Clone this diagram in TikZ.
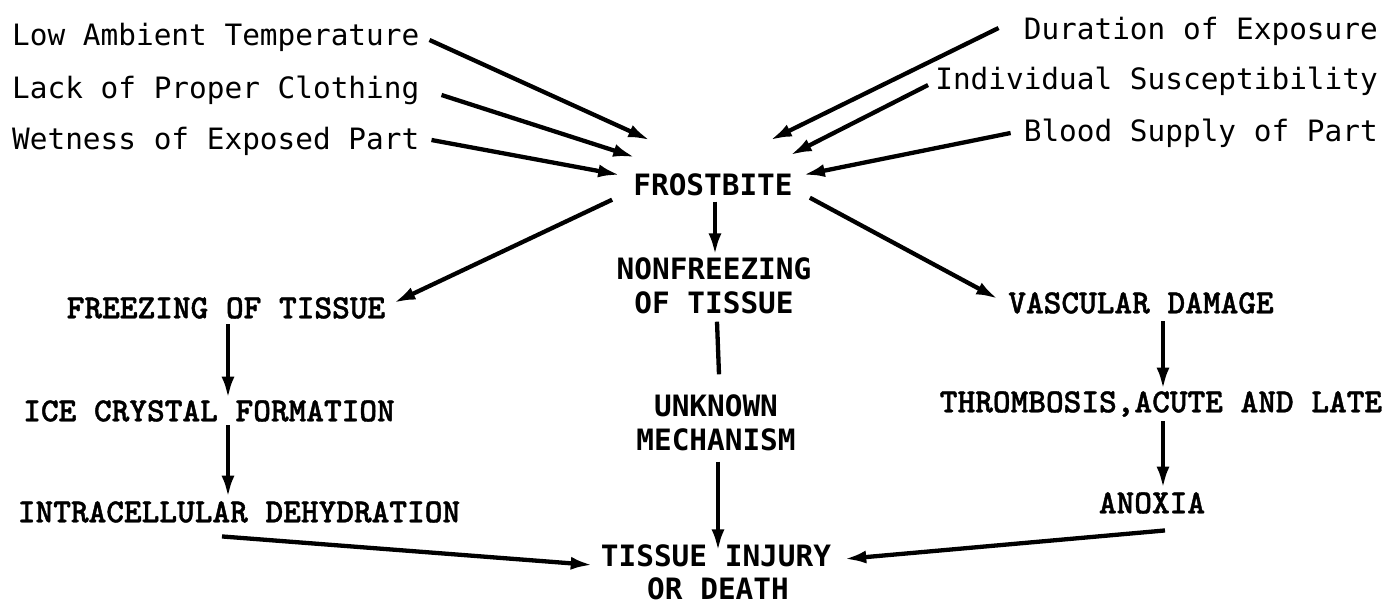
\documentclass[tikz,border=0pt]{standalone}
\usepackage{fontspec}
\newfontfamily\gothic{DejaVu Sans Mono}
\newfontfamily\typfont[FakeBold=1.2]{lmmonolt10-bold.otf}
\usetikzlibrary{arrows.meta,calc}
\tikzset{
  goth/.style={inner sep=0pt,text height=21pt,text depth=0pt,font=\gothic\fontsize{29.4}{32}\selectfont},
  gothb/.style={inner sep=0pt,text height=21pt,text depth=0pt,font=\gothic\bfseries\fontsize{29.4}{32}\selectfont},
  typw/.style={inner sep=0pt,text height=20.5pt,text depth=0pt,font=\typfont\fontsize{33.7}{36}\selectfont},
  arr/.style={line width=4.3pt,-{Latex[length=22pt,width=13pt]}},
  ln/.style={line width=4.3pt}
}
\begin{document}
\begin{tikzpicture}[x=1pt,y=-1pt]
\useasboundingbox[fill=white] (0,0) rectangle (1390,605);
% causes
\node[goth,anchor=west] (lat) at (12,35) {Low Ambient Temperature};
\node[goth,anchor=west] (lpc) at (12,88) {Lack of Proper Clothing};
\node[goth,anchor=west] (wep) at (12,139) {Wetness of Exposed Part};
\node[goth,anchor=east] (doe) at (1378,29) {Duration of Exposure};
\node[goth,anchor=east] (isus) at (1378,79) {Individual Susceptibility};
\node[goth,anchor=east] (bsp) at (1378,131) {Blood Supply of Part};
% centre
\node[gothb] (fb) at (713,185) {FROSTBITE};
\node[gothb] (nf1) at (714,269) {NONFREEZING};
\node[gothb] (nf2) at (714,303) {OF TISSUE};
\node[gothb] (um1) at (716,406) {UNKNOWN};
\node[gothb] (um2) at (716,440) {MECHANISM};
\node[gothb] (tid1) at (716,556) {TISSUE INJURY};
\node[gothb] (tid2) at (718,589) {OR DEATH};
% left
\node[typw] (fot) at (226,308) {FREEZING OF TISSUE};
\node[typw] (ice) at (209,411) {ICE CRYSTAL FORMATION};
\node[typw] (intra) at (239,512) {INTRACELLULAR DEHYDRATION};
% right
\node[typw] (vd) at (1141,303) {VASCULAR DAMAGE};
\node[typw] (thr) at (1161,402) {THROMBOSIS,ACUTE AND LATE};
\node[typw] (anox) at (1152,503) {ANOXIA};
% arrows into frostbite
\draw[arr] ([shift={(10,5)}]lat.east) -- ([shift={(17,-34)}]fb.north west);
\draw[arr] ([shift={(22,7)}]lpc.east) -- ([shift={(2,-17)}]fb.north west);
\draw[arr] ([shift={(12,1)}]wep.east) -- ([shift={(-13,-10)}]fb.west);
\draw[arr] ([shift={(-25,-1)}]doe.west) -- ([shift={(-23,-34)}]fb.north east);
\draw[arr] ([shift={(-7,6)}]isus.west) -- ([shift={(-3,-19)}]fb.north east);
\draw[arr] ([shift={(-13,2)}]bsp.west) -- ([shift={(10,-10)}]fb.east);
% out of frostbite
\draw[arr] ([shift={(-21,4)}]fb.south west) -- ([shift={(8,-5)}]fot.east);
\draw[arr] ([shift={(2,6)}]fb.south) -- ([shift={(1,-3)}]nf1.north);
\draw[arr] ([shift={(17,2)}]fb.south east) -- ([shift={(-10,-4)}]vd.west);
% middle column
\draw[ln] ([shift={(3,8)}]nf2.south) -- ([shift={(3,-21)}]um1.north);
\draw[arr] ([shift={(2,11)}]um2.south) -- ([shift={(2,6)}]tid1.north);
% left column
\draw[arr] ([shift={(2,6)}]fot.south) -- ([shift={(19,-2)}]ice.north);
\draw[arr] ([shift={(19,4)}]ice.south) -- ([shift={(-11,-4)}]intra.north);
\draw[arr] ([shift={(-17,14)}]intra.south) -- ([shift={(-8,9)}]tid1.west);
% right column
\draw[arr] ([shift={(22,8)}]vd.south) -- ([shift={(2,-2)}]thr.north);
\draw[arr] ([shift={(2,9)}]thr.south) -- ([shift={(11,-4)}]anox.north);
\draw[arr] ([shift={(13,17)}]anox.south) -- ([shift={(13,3)}]tid1.east);
\end{tikzpicture}
\end{document}
